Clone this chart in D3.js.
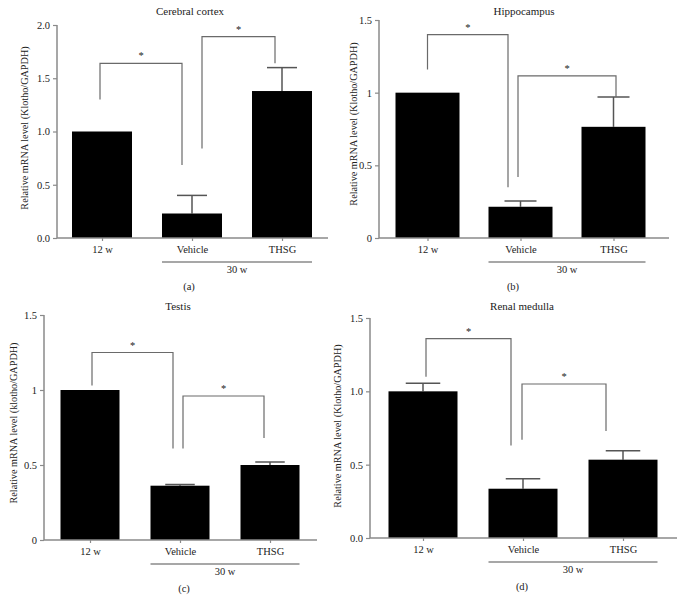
<!DOCTYPE html>
<html><head><meta charset="utf-8">
<script src="https://cdn.jsdelivr.net/npm/d3@7"></script>
<style>
body{margin:0;background:#fff}
svg{display:block}
text{font-family:"Liberation Serif","Times New Roman",serif;fill:#222}
</style>
</head><body>
<svg id="chart" width="688" height="610"></svg>
<script>
// ---------------- data ----------------
const categories = ["12 w", "Vehicle", "THSG"];
const groupLabel = "30 w";
const titles = ["Cerebral cortex", "Hippocampus", "Testis", "Renal medulla"];
const panelTags = ["(a)", "(b)", "(c)", "(d)"];
const yLabels = [
  "Relative mRNA level (Klotho/GAPDH)",
  "Relative mRNA level (Klotho/GAPDH)",
  "Relative mRNA level (klotho/GAPDH)",
  "Relative mRNA level (Klotho/GAPDH)"
];
const cortexMean = [1.00, 0.23, 1.38];
const cortexErr  = [0.00, 0.17, 0.22];
const hippoMean  = [1.00, 0.215, 0.765];
const hippoErr   = [0.00, 0.04, 0.205];
const testisMean = [1.00, 0.362, 0.50];
const testisErr  = [0.00, 0.008, 0.02];
const renalMean  = [1.00, 0.336, 0.534];
const renalErr   = [0.055, 0.068, 0.061];
const yMaxes = [2.0, 1.5, 1.5, 1.5];
const yTickValues = [[0, 0.5, 1, 1.5, 2], [0, 0.5, 1, 1.5], [0, 0.5, 1, 1.5], [0, 0.5, 1, 1.5]];
const yTickFormats = [".1f", "~g", "~g", ".1f"];
// significance brackets: [fromCat, toCat, leftFoot, top, rightFoot]
const cortexBrackets = [[0, 1, 1.30, 1.64, 0.685], [1, 2, 0.84, 1.89, 1.64]];
const hippoBrackets  = [[0, 1, 1.16, 1.40, 0.35], [1, 2, 0.42, 1.115, 0.97]];
const testisBrackets = [[0, 1, 1.03, 1.25, 0.61], [1, 2, 0.61, 0.96, 0.68]];
const renalBrackets  = [[0, 1, 1.10, 1.36, 0.63], [1, 2, 0.67, 1.05, 0.73]];
const sigMark = "*";

// ---------------- layout ----------------
const layouts = [
  {axL:57, axR:328, rL:57, rR:327, yTop:25, yZero:238, barW:60, ylx:24, yly:128, tx:190, ty:15, tagX:189, off:[[-2,-10],[10,-7]]},
  {axL:379, axR:669, rL:381, rR:660, yTop:20, yZero:238, barW:64, ylx:353, yly:124, tx:524, ty:15, tagX:513, off:[[0,-12.5],[-2.5,2.5]]},
  {axL:44, axR:317, rL:45, rR:315, yTop:315, yZero:540, barW:59, ylx:13, yly:423, tx:178, ty:310, tagX:184, off:[[2,-7],[3,-6]]},
  {axL:370, axR:677, rL:373, rR:673, yTop:318, yZero:538, barW:69, ylx:337, yly:426, tx:522, ty:310, tagX:522, off:[[3,-12],[-1,-17]]}
];
const means = [cortexMean, hippoMean, testisMean, renalMean];
const errs = [cortexErr, hippoErr, testisErr, renalErr];
const brackets = [cortexBrackets, hippoBrackets, testisBrackets, renalBrackets];

const svg = d3.select("#chart");
const axisColor = "#8a8a8a", bracketColor = "#6a6a6a", errColor = "#555";

layouts.forEach((L, p) => {
  const g = svg.append("g");
  const x = d3.scalePoint().domain(categories).range([L.rL, L.rR]).padding(0.5);
  const y = d3.scaleLinear().domain([0, yMaxes[p]]).range([L.yZero, L.yTop]);
  const data = categories.map((c, i) => ({c, m: means[p][i], e: errs[p][i]}));

  // error bars (drawn first so bar covers lower part)
  data.filter(d => d.e > 0).forEach(d => {
    const cx = x(d.c), cw = L.barW / 2;
    g.append("line").attr("x1", cx).attr("x2", cx).attr("y1", y(d.m)).attr("y2", y(d.m + d.e))
      .attr("stroke", errColor).attr("stroke-width", 1.5);
    g.append("line").attr("x1", cx - cw/2).attr("x2", cx + cw/2).attr("y1", y(d.m + d.e)).attr("y2", y(d.m + d.e))
      .attr("stroke", errColor).attr("stroke-width", 1.5);
  });

  // bars
  g.selectAll("rect.bar").data(data).enter().append("rect")
    .attr("class", "bar")
    .attr("x", d => x(d.c) - L.barW/2).attr("width", L.barW)
    .attr("y", d => y(d.m)).attr("height", d => y(0) - y(d.m))
    .attr("fill", "#000");

  // y axis
  const yAxis = d3.axisLeft(y).tickValues(yTickValues[p]).tickFormat(d3.format(yTickFormats[p])).tickSize(4).tickPadding(3);
  const ya = g.append("g").attr("transform", `translate(${L.axL},0)`).call(yAxis);
  ya.select(".domain").attr("stroke", axisColor).attr("stroke-width", 1.5).attr("d", `M0,${L.yZero}V${L.yTop}`);
  ya.selectAll(".tick line").attr("stroke", axisColor).attr("stroke-width", 1.2);
  ya.selectAll(".tick text").attr("font-size", 10.5).attr("fill", "#222")
    .attr("font-family", '"Liberation Serif","Times New Roman",serif');

  // x axis
  const xa = g.append("g").attr("transform", `translate(0,${L.yZero})`)
    .call(d3.axisBottom(x).tickSize(3).tickPadding(5));
  xa.select(".domain").attr("stroke", axisColor).attr("stroke-width", 1.5).attr("d", `M${L.axL},0H${L.axR}`);
  xa.selectAll(".tick line").attr("stroke", axisColor).attr("stroke-width", 1.2);
  xa.selectAll(".tick text").attr("font-size", 10.5).attr("fill", "#222")
    .attr("font-family", '"Liberation Serif","Times New Roman",serif');

  // group line "30 w"
  const gx1 = x(categories[1]) - L.barW/2, gx2 = x(categories[2]) + L.barW/2;
  g.append("line").attr("x1", gx1).attr("x2", gx2).attr("y1", L.yZero + 24).attr("y2", L.yZero + 24)
    .attr("stroke", axisColor).attr("stroke-width", 1.3);
  g.append("text").attr("x", (x(categories[1]) + x(categories[2])) / 2).attr("y", L.yZero + 35)
    .attr("text-anchor", "middle").attr("font-size", 10.5).text(groupLabel);

  // brackets
  brackets[p].forEach((b, k) => {
    const xl = x(categories[b[0]]) + L.off[k][0];
    const xr = x(categories[b[1]]) + L.off[k][1];
    g.append("path")
      .attr("d", `M${xl},${y(b[2])}V${y(b[3])}H${xr}V${y(b[4])}`)
      .attr("fill", "none").attr("stroke", bracketColor).attr("stroke-width", 1.2);
    g.append("text").attr("x", (xl + xr) / 2).attr("y", y(b[3]) - 4)
      .attr("text-anchor", "middle").attr("font-size", 10.5).text(sigMark);
  });

  // title
  g.append("text").attr("x", L.tx).attr("y", L.ty).attr("text-anchor", "middle").attr("font-size", 11).text(titles[p]);
  // y label
  g.append("text").attr("transform", `translate(${L.ylx},${L.yly}) rotate(-90)`)
    .attr("text-anchor", "middle").attr("dy", "0.35em").attr("font-size", 10.2).text(yLabels[p]);
  // panel tag
  g.append("text").attr("x", L.tagX).attr("y", L.yZero + 52).attr("text-anchor", "middle").attr("font-size", 10.5).text(panelTags[p]);
});
</script>
</body></html>
